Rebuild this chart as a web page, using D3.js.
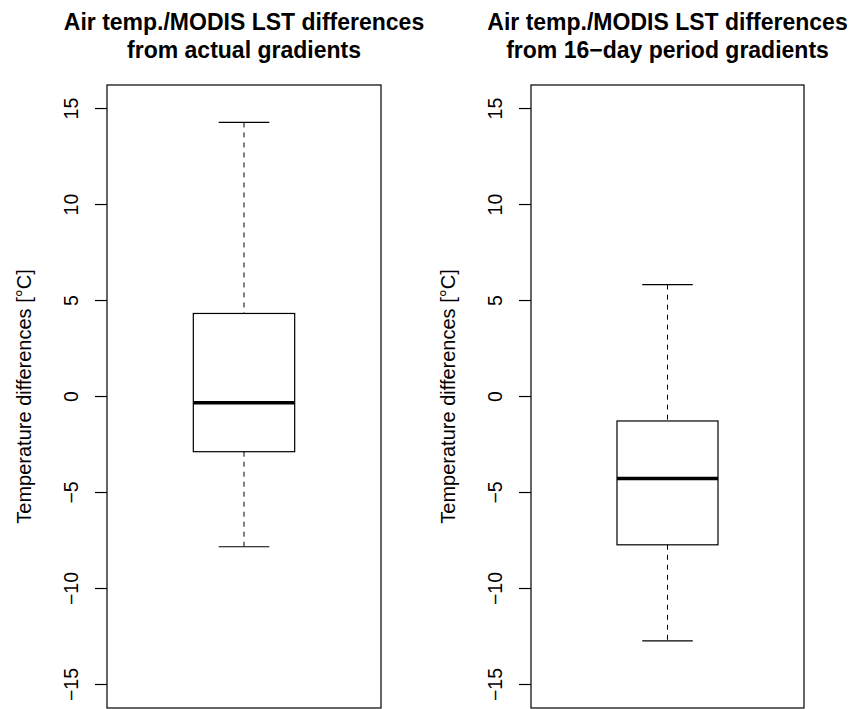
<!DOCTYPE html>
<html>
<head>
<meta charset="utf-8">
<script src="https://cdn.jsdelivr.net/npm/d3@7"></script>
<style>
  body { margin: 0; background: #fff; }
  svg { display: block; }
</style>
</head>
<body>
<div id="chart"></div>
<script>
// two boxplots, summary stats
const titles = [
  ["Air temp./MODIS LST differences", "from actual gradients"],
  ["Air temp./MODIS LST differences", "from 16\u2212day period gradients"]
];
const whiskerLow = [-7.85, -12.75];
const q1 = [-2.9, -7.75];
const median = [-0.35, -4.3];
const q3 = [4.3, -1.3];
const whiskerHigh = [14.25, 5.8];
const yTicks = [-15, -10, -5, 0, 5, 10, 15];
const yLabel = "Temperature differences [\u00b0C]";

const w = 853, h = 709;
const panels = [{ left: 107, right: 381 }, { left: 531, right: 804 }];
const plotTop = 85, plotBottom = 708;

const svg = d3.select("#chart").append("svg")
  .attr("width", w)
  .attr("height", h)
  .style("font-family", "'Liberation Sans', Arial, sans-serif");

const y = d3.scaleLinear().domain([-16.25, 16.2]).range([plotBottom, plotTop]);
const fmt = d => d < 0 ? "\u2212" + Math.abs(d) : String(d);

panels.forEach(function(p, i) {
  const g = svg.append("g");
  const x = d3.scaleLinear().domain([0.5, 1.5]).range([p.left, p.right]);
  const cx = x(1);
  const boxW = (p.right - p.left) * 0.37;
  const capW = boxW / 2;

  // frame
  g.append("rect")
    .attr("x", p.left).attr("y", plotTop)
    .attr("width", p.right - p.left).attr("height", plotBottom - plotTop)
    .attr("fill", "none").attr("stroke", "#000").attr("stroke-width", 1.2);

  // y axis, labels parallel to the axis like R's default
  const axis = g.append("g")
    .attr("transform", `translate(${p.left},0)`)
    .call(d3.axisLeft(y).tickValues(yTicks).tickSize(12).tickFormat(fmt));
  axis.select(".domain").remove();
  axis.selectAll(".tick line").attr("stroke", "#000").attr("stroke-width", 1.2);
  axis.selectAll(".tick text")
    .attr("x", 0).attr("dy", 0)
    .attr("text-anchor", "middle")
    .attr("transform", "translate(-29,0) rotate(-90)")
    .attr("font-size", 19.5)
    .attr("fill", "#000");

  // y label
  g.append("text")
    .attr("transform", `translate(${p.left - 76},${(plotTop + plotBottom) / 2}) rotate(-90)`)
    .attr("text-anchor", "middle")
    .attr("font-size", 20)
    .text(yLabel);

  // title
  titles[i].forEach(function(t, k) {
    g.append("text")
      .attr("x", (p.left + p.right) / 2)
      .attr("y", 30 + k * 28)
      .attr("text-anchor", "middle")
      .attr("font-weight", "bold")
      .attr("font-size", 23)
      .text(t);
  });

  // whiskers
  g.append("line")
    .attr("x1", cx).attr("x2", cx)
    .attr("y1", y(whiskerHigh[i])).attr("y2", y(q3[i]))
    .attr("stroke", "#000").attr("stroke-dasharray", "5,5");
  g.append("line")
    .attr("x1", cx).attr("x2", cx)
    .attr("y1", y(q1[i])).attr("y2", y(whiskerLow[i]))
    .attr("stroke", "#000").attr("stroke-dasharray", "5,5");
  [whiskerHigh[i], whiskerLow[i]].forEach(function(v) {
    g.append("line")
      .attr("x1", cx - capW / 2).attr("x2", cx + capW / 2)
      .attr("y1", y(v)).attr("y2", y(v))
      .attr("stroke", "#000").attr("stroke-width", 1.2);
  });

  // box
  g.append("rect")
    .attr("x", cx - boxW / 2).attr("y", y(q3[i]))
    .attr("width", boxW).attr("height", y(q1[i]) - y(q3[i]))
    .attr("fill", "#fff").attr("stroke", "#000").attr("stroke-width", 1.2);
  g.append("line")
    .attr("x1", cx - boxW / 2).attr("x2", cx + boxW / 2)
    .attr("y1", y(median[i])).attr("y2", y(median[i]))
    .attr("stroke", "#000").attr("stroke-width", 3.5);
});
</script>
</body>
</html>
